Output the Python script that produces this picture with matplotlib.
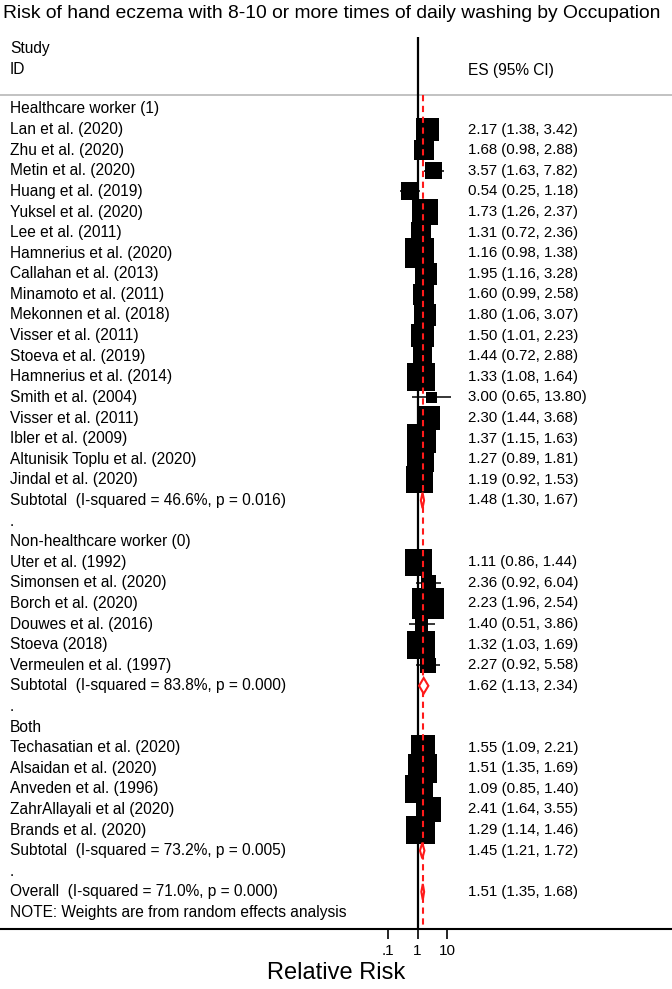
import matplotlib
matplotlib.use("Agg")
import matplotlib.pyplot as plt
import matplotlib.transforms as mtransforms
from matplotlib.patches import Rectangle, Polygon

plt.rcParams['font.family'] = ['Liberation Sans', 'DejaVu Sans']

# Healthcare worker (1)
hc_studies = ["Lan et al. (2020)", "Zhu et al. (2020)", "Metin et al. (2020)", "Huang et al. (2019)",
              "Yuksel et al. (2020)", "Lee et al. (2011)", "Hamnerius et al. (2020)", "Callahan et al. (2013)",
              "Minamoto et al. (2011)", "Mekonnen et al. (2018)", "Visser et al. (2011)", "Stoeva et al. (2019)",
              "Hamnerius et al. (2014)", "Smith et al. (2004)", "Visser et al. (2011)", "Ibler et al. (2009)",
              "Altunisik Toplu et al. (2020)", "Jindal et al. (2020)"]
hc_es = [2.17, 1.68, 3.57, 0.54, 1.73, 1.31, 1.16, 1.95, 1.60, 1.80, 1.50, 1.44, 1.33, 3.00, 2.30, 1.37, 1.27, 1.19]
hc_lo = [1.38, 0.98, 1.63, 0.25, 1.26, 0.72, 0.98, 1.16, 0.99, 1.06, 1.01, 0.72, 1.08, 0.65, 1.44, 1.15, 0.89, 0.92]
hc_hi = [3.42, 2.88, 7.82, 1.18, 2.37, 2.36, 1.38, 3.28, 2.58, 3.07, 2.23, 2.88, 1.64, 13.80, 3.68, 1.63, 1.81, 1.53]
hc_wt = [3.09, 2.55, 1.84, 1.95, 4.14, 2.55, 5.36, 2.81, 2.81, 2.81, 3.37, 2.18, 4.82, 0.64, 3.23, 5.36, 4.31, 4.48]
hc_sub = ("Subtotal  (I-squared = 46.6%, p = 0.016)", 1.48, 1.30, 1.67)

# Non-healthcare worker (0)
nhc_studies = ["Uter et al. (1992)", "Simonsen et al. (2020)", "Borch et al. (2020)", "Douwes et al. (2016)",
               "Stoeva (2018)", "Vermeulen et al. (1997)"]
nhc_es = [1.11, 2.36, 2.23, 1.40, 1.32, 2.27]
nhc_lo = [0.86, 0.92, 1.96, 0.51, 1.03, 0.92]
nhc_hi = [1.44, 6.04, 2.54, 3.86, 1.69, 5.58]
nhc_wt = [4.48, 1.43, 6.13, 1.08, 4.82, 1.43]
nhc_sub = ("Subtotal  (I-squared = 83.8%, p = 0.000)", 1.62, 1.13, 2.34)

# Both
both_studies = ["Techasatian et al. (2020)", "Alsaidan et al. (2020)", "Anveden et al. (1996)",
                "ZahrAllayali et al (2020)", "Brands et al. (2020)"]
both_es = [1.55, 1.51, 1.09, 2.41, 1.29]
both_lo = [1.09, 1.35, 0.85, 1.64, 1.14]
both_hi = [2.21, 1.69, 1.40, 3.55, 1.46]
both_wt = [3.67, 5.00, 4.82, 3.83, 5.00]
both_sub = ("Subtotal  (I-squared = 73.2%, p = 0.005)", 1.45, 1.21, 1.72)

overall = ("Overall  (I-squared = 71.0%, p = 0.000)", 1.51, 1.35, 1.68)

groups = [("Healthcare worker (1)", hc_studies, hc_es, hc_lo, hc_hi, hc_wt, hc_sub),
          ("Non-healthcare worker (0)", nhc_studies, nhc_es, nhc_lo, nhc_hi, nhc_wt, nhc_sub),
          ("Both", both_studies, both_es, both_lo, both_hi, both_wt, both_sub)]

xticks = [0.1, 1, 10]
xticklabels = [".1", "1", "10"]

# figure geometry (pixels)
W, H = 672, 989
X1 = 417.5      # pixel of RR = 1
DEC = 29.5      # pixels per decade
ROW0, DROW = 109, 20.6
AX_TOP, AX_BOT = 37, 929

fig = plt.figure(figsize=(W / 100, H / 100), dpi=100)
ax = fig.add_axes([0, 1 - AX_BOT / H, 1, (AX_BOT - AX_TOP) / H])
ax.set_xscale('log')
ax.set_xlim(10 ** (-X1 / DEC), 10 ** ((W - X1) / DEC))
ax.set_ylim((AX_BOT - ROW0) / DROW, (AX_TOP - ROW0) / DROW)
for s in ['top', 'left', 'right']:
    ax.spines[s].set_visible(False)
ax.spines['bottom'].set_linewidth(1.5)
ax.set_yticks([])
ax.set_xticks(xticks)
ax.set_xticklabels(xticklabels)
ax.minorticks_off()
ax.tick_params(axis='x', direction='out', length=7.5, width=1.2, labelsize=11, pad=3)

trans = mtransforms.blended_transform_factory(ax.transAxes, ax.transData)
LEFT = 10 / W
RIGHT = 468 / W
FS = 11.2
FS_ES = 10.8


def es_text(es, lo, hi):
    return "%.2f (%.2f, %.2f)" % (es, lo, hi)


def draw_study(y, es, lo, hi, wt):
    side = 12.8 * wt ** 0.5   # box side in pixels, area ~ weight
    hw = side / 2 / DEC
    hh = side / 2 / DROW
    ax.plot([lo, hi], [y, y], color='black', lw=1.1, zorder=3, solid_capstyle='butt')
    ax.add_patch(Rectangle((es * 10 ** -hw, y - hh), es * 10 ** hw - es * 10 ** -hw, 2 * hh,
                           facecolor='black', edgecolor='none', zorder=3))


def draw_diamond(y, es, lo, hi):
    h = 0.38
    ax.add_patch(Polygon([(lo, y), (es, y - h), (hi, y), (es, y + h)], closed=True,
                         facecolor='white', edgecolor='#ff1a1a', lw=1.5, zorder=5))


# header
ax.text(LEFT, (49 - ROW0) / DROW, "Study", transform=trans, fontsize=FS, va='center')
ax.text(LEFT, (70 - ROW0) / DROW, "ID", transform=trans, fontsize=FS, va='center')
ax.text(RIGHT, (70 - ROW0) / DROW, "ES (95% CI)", transform=trans, fontsize=FS, va='center')
header_y = (95 - ROW0) / DROW
ax.axhline(header_y, color='#bdbdbd', lw=1.3, zorder=1)

row = 0
for gname, names, es_l, lo_l, hi_l, wt_l, sub in groups:
    ax.text(LEFT, row, gname, transform=trans, fontsize=FS, va='center')
    row += 1
    for n, e, l, h, w in zip(names, es_l, lo_l, hi_l, wt_l):
        ax.text(LEFT, row, n, transform=trans, fontsize=FS, va='center')
        ax.text(RIGHT, row, es_text(e, l, h), transform=trans, fontsize=FS_ES, va='center')
        draw_study(row, e, l, h, w)
        row += 1
    ax.text(LEFT, row, sub[0], transform=trans, fontsize=FS, va='center')
    ax.text(RIGHT, row, es_text(*sub[1:]), transform=trans, fontsize=FS_ES, va='center')
    draw_diamond(row, *sub[1:])
    row += 1
    ax.text(LEFT, row, ".", transform=trans, fontsize=FS, va='center')
    row += 1

ax.text(LEFT, row, overall[0], transform=trans, fontsize=FS, va='center')
ax.text(RIGHT, row, es_text(*overall[1:]), transform=trans, fontsize=FS_ES, va='center')
draw_diamond(row, *overall[1:])
row += 1
ax.text(LEFT, row, "NOTE: Weights are from random effects analysis", transform=trans, fontsize=FS, va='center')

# null line and overall effect line
ax.axvline(1, color='black', lw=1.6, zorder=2)
ax.plot([overall[1], overall[1]], [header_y, ax.get_ylim()[0]], color='#ff1a1a', lw=1.5,
        dashes=(3, 2.2), zorder=4)

fig.text(3 / W, 1 - 14 / H, "Risk of hand eczema with 8-10 or more times of daily washing by Occupation",
         fontsize=13.9, ha='left', va='center')
fig.text(0.5, 1 - 973 / H, "Relative Risk", fontsize=17, ha='center', va='center')

fig.savefig("out.png", dpi=100)
